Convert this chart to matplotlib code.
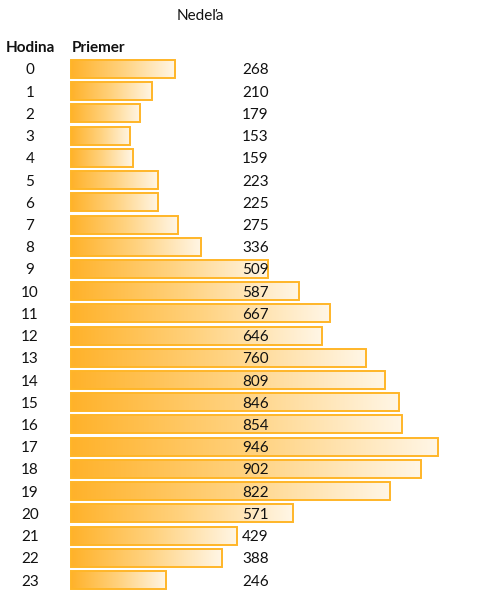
import matplotlib
matplotlib.use("Agg")
import matplotlib.pyplot as plt
import numpy as np
from matplotlib.colors import LinearSegmentedColormap

title = "Nedeľa"
col_hour = "Hodina"
col_avg = "Priemer"
hours = list(range(24))
values = [268, 210, 179, 153, 159, 223, 225, 275, 336, 509, 587, 667, 646, 760,
          809, 846, 854, 946, 902, 822, 571, 429, 388, 246]

W, H = 500, 597
fig = plt.figure(figsize=(W / 100, H / 100), dpi=100)
ax = fig.add_axes([0, 0, 1, 1])
ax.set_axis_off()

px_per_unit = (438 - 71) / 946.0
x0_px = 71
row0_px = 69
row_step = (580 - 69) / 23.0

cmap = LinearSegmentedColormap.from_list("g", ["#FFB22A", "#FFD27F", "#FFF6E6"])
grad = np.linspace(0, 1, 256).reshape(1, -1)
bh = 18 / row_step

for i, v in zip(hours, values):
    ax.imshow(grad, cmap=cmap, aspect="auto", interpolation="bilinear",
              extent=[0, v, i + bh / 2, i - bh / 2], zorder=1)
    ax.barh(i, v, height=bh, left=0, facecolor="none", edgecolor="#FFB628",
            linewidth=1.4, zorder=2)

ax.set_xlim(-x0_px / px_per_unit, (W - x0_px) / px_per_unit)
ax.set_ylim((H - row0_px) / row_step, -row0_px / row_step)

font = "Lato"
fs = 11
hour_x = (30 - x0_px) / px_per_unit
val_x = (242 - x0_px) / px_per_unit
for i, v in zip(hours, values):
    ax.text(hour_x, i, str(i), ha="center", va="center_baseline", fontsize=fs,
            family=font, color="#111111", zorder=3)
    ax.text(val_x, i, str(v), ha="left", va="center_baseline", fontsize=fs,
            family=font, color="#111111", zorder=3)

fig.text(6 / W, 1 - 47 / H, col_hour, fontsize=fs, family=font,
         fontweight="bold", ha="left", va="center_baseline", color="#111111")
fig.text(72 / W, 1 - 47 / H, col_avg, fontsize=fs, family=font,
         fontweight="bold", ha="left", va="center_baseline", color="#111111")
fig.text(200 / W, 1 - 15 / H, title, fontsize=fs, family=font,
         ha="center", va="center_baseline", color="#111111")

fig.savefig("out.png", dpi=100, facecolor="white")
